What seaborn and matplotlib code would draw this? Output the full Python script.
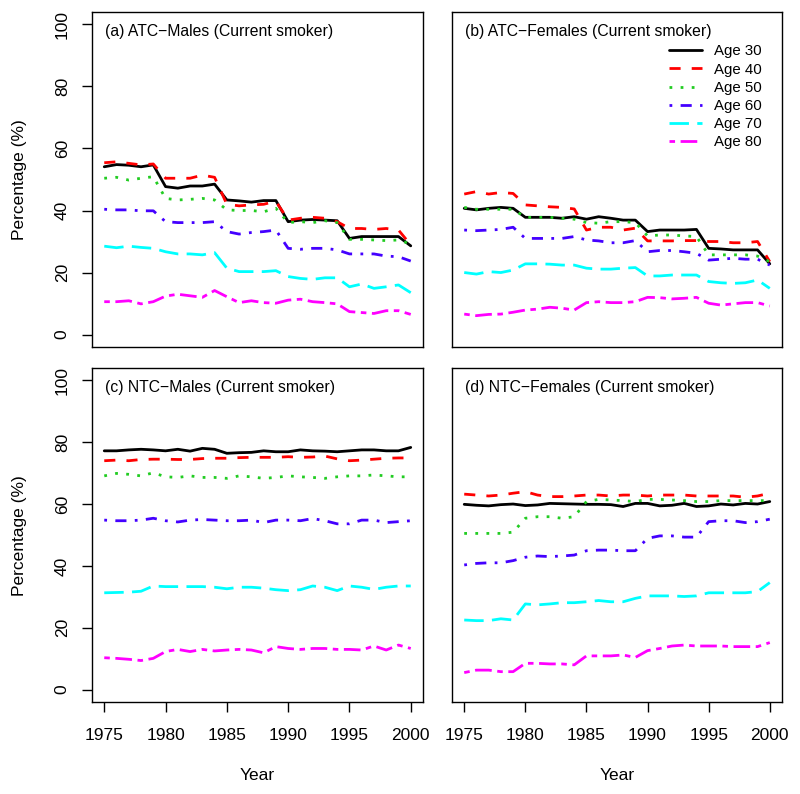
import pandas as pd
import matplotlib
matplotlib.use("Agg")
import matplotlib.pyplot as plt
import seaborn as sns

# -------------------------------
# 1. Data
# -------------------------------
years = list(range(1975, 2001))
ages = ["Age 30", "Age 40", "Age 50", "Age 60", "Age 70", "Age 80"]
panel_titles = ["(a) ATC\u2212Males (Current smoker)", "(b) ATC\u2212Females (Current smoker)",
                "(c) NTC\u2212Males (Current smoker)", "(d) NTC\u2212Females (Current smoker)"]

# (a) ATC - Males
atc_m_30 = [54.1, 54.8, 54.6, 54.1, 54.7, 47.7, 47.2, 47.9, 47.9, 48.5, 43.4, 43.1, 42.7, 43.2, 43.2,
            36.4, 36.9, 37.1, 36.9, 36.7, 31.0, 31.6, 31.6, 31.6, 31.6, 28.6]
atc_m_40 = [55.4, 55.7, 55.2, 54.7, 55.0, 50.4, 50.4, 50.4, 51.4, 50.7, 42.0, 41.5, 41.8, 42.0, 43.0,
            36.9, 37.5, 37.8, 37.5, 36.4, 34.2, 34.2, 33.9, 34.2, 33.7, 28.9]
atc_m_50 = [50.4, 50.7, 49.8, 50.4, 50.9, 43.9, 43.4, 43.6, 43.9, 43.4, 40.2, 40.0, 40.0, 39.6, 40.7,
            36.1, 36.4, 36.1, 36.7, 36.1, 30.7, 30.7, 30.5, 30.3, 30.5, 29.2]
atc_m_60 = [40.4, 40.2, 40.2, 39.9, 39.9, 36.4, 36.1, 36.1, 36.1, 36.4, 33.2, 32.4, 32.9, 33.2, 33.7,
            27.8, 27.5, 27.8, 27.8, 27.3, 26.0, 26.0, 26.0, 25.3, 25.1, 23.7]
atc_m_70 = [28.5, 28.0, 28.5, 28.1, 27.8, 26.7, 26.0, 26.0, 25.7, 26.4, 21.4, 20.3, 20.3, 20.3, 20.6,
            18.7, 18.1, 17.8, 18.3, 18.3, 15.4, 16.3, 14.9, 15.4, 16.0, 13.5]
atc_m_80 = [10.6, 10.6, 10.9, 9.9, 10.6, 12.4, 13.0, 12.5, 12.0, 14.2, 12.2, 10.3, 10.9, 10.3, 10.1,
            11.1, 11.4, 10.6, 10.3, 9.9, 7.4, 7.1, 6.8, 7.7, 7.7, 6.5]

# (b) ATC - Females
atc_f_30 = [40.7, 40.2, 40.7, 41.0, 40.7, 37.8, 37.8, 37.8, 37.5, 38.0, 37.2, 38.0, 37.5, 36.9, 36.9,
            33.2, 33.7, 33.7, 33.7, 33.9, 27.8, 27.6, 27.3, 27.3, 27.3, 22.8]
atc_f_40 = [45.3, 46.1, 45.3, 45.8, 45.5, 41.8, 41.5, 41.2, 41.0, 40.5, 33.7, 34.6, 34.6, 33.7, 34.3,
            30.2, 30.2, 30.2, 30.3, 30.3, 30.0, 30.0, 29.6, 29.6, 30.0, 23.5]
atc_f_50 = [41.0, 40.4, 40.4, 40.4, 40.4, 37.8, 37.8, 37.8, 37.5, 37.2, 36.1, 35.9, 36.4, 36.4, 36.1,
            31.8, 32.1, 32.1, 31.8, 31.6, 25.7, 25.7, 25.7, 25.7, 25.3, 23.5]
atc_f_60 = [33.7, 33.5, 33.7, 33.9, 34.6, 31.0, 31.0, 31.0, 31.0, 31.6, 30.5, 30.2, 29.6, 29.6, 30.3,
            26.7, 27.1, 27.1, 26.7, 26.2, 24.0, 24.3, 24.6, 24.3, 24.3, 22.4]
atc_f_70 = [20.0, 19.5, 20.3, 20.0, 20.8, 22.8, 22.8, 22.7, 22.4, 22.4, 21.4, 21.1, 21.1, 21.4, 21.6,
            18.9, 18.9, 19.2, 19.2, 19.2, 17.1, 16.7, 16.5, 16.7, 17.6, 14.9]
atc_f_80 = [6.6, 6.1, 6.5, 6.6, 7.2, 7.9, 8.2, 8.8, 8.5, 7.9, 10.3, 10.6, 10.3, 10.3, 10.6,
            12.0, 11.9, 11.5, 11.7, 12.0, 10.1, 9.5, 9.9, 10.3, 10.3, 9.2]

# (c) NTC - Males
ntc_m_30 = [77.2, 77.2, 77.5, 77.7, 77.5, 77.2, 77.7, 77.1, 78.0, 77.7, 76.4, 76.6, 76.7, 77.2, 76.9,
            76.9, 77.5, 77.2, 77.1, 76.9, 77.2, 77.5, 77.5, 77.2, 77.2, 78.3]
ntc_m_40 = [74.0, 74.2, 74.0, 74.4, 74.5, 74.5, 74.4, 74.4, 74.7, 74.8, 74.8, 75.0, 75.1, 75.1, 75.1,
            75.3, 75.1, 75.2, 75.5, 74.6, 74.0, 74.2, 74.5, 74.8, 74.9, 74.9]
ntc_m_50 = [69.1, 69.9, 69.6, 69.1, 70.1, 68.8, 68.6, 69.1, 68.6, 68.6, 68.3, 69.1, 68.8, 68.3, 68.6,
            69.1, 68.8, 68.6, 68.3, 68.8, 69.1, 69.1, 69.4, 69.1, 68.8, 68.8]
ntc_m_60 = [54.8, 54.6, 54.6, 54.8, 55.4, 54.6, 54.2, 54.8, 55.0, 54.8, 54.6, 54.6, 54.8, 54.0, 54.8,
            54.8, 54.6, 55.3, 54.6, 53.6, 53.6, 54.8, 54.8, 54.0, 54.3, 54.6]
ntc_m_70 = [31.3, 31.4, 31.5, 31.8, 33.5, 33.3, 33.3, 33.3, 33.3, 33.1, 32.6, 33.1, 33.1, 32.8, 32.3,
            32.0, 32.3, 33.5, 33.1, 32.0, 33.5, 33.1, 32.4, 33.1, 33.5, 33.5]
ntc_m_80 = [10.3, 10.1, 9.8, 9.4, 10.1, 12.3, 13.0, 12.3, 13.0, 12.5, 12.8, 13.0, 12.8, 11.9, 13.9,
            13.3, 13.0, 13.3, 13.3, 13.0, 13.0, 12.8, 14.1, 12.8, 14.4, 13.3]

# (d) NTC - Females
ntc_f_30 = [59.9, 59.6, 59.4, 59.8, 60.0, 59.5, 59.7, 60.2, 60.1, 60.0, 59.9, 59.9, 59.8, 59.2, 60.2,
            60.2, 59.4, 59.6, 60.2, 59.2, 59.4, 60.0, 59.7, 60.2, 60.0, 60.8]
ntc_f_40 = [63.2, 62.9, 62.6, 62.9, 63.5, 64.0, 62.9, 62.4, 62.4, 62.6, 62.9, 62.9, 62.6, 62.9, 62.9,
            62.6, 62.9, 62.9, 62.9, 62.6, 62.6, 62.6, 62.6, 62.2, 62.6, 63.5]
ntc_f_50 = [50.5, 50.5, 50.5, 50.5, 50.9, 55.4, 55.9, 55.9, 55.4, 55.9, 60.8, 61.5, 61.3, 61.1, 60.8,
            61.5, 61.5, 61.3, 61.1, 60.8, 60.8, 61.1, 61.1, 61.1, 61.1, 61.1]
ntc_f_60 = [40.3, 40.8, 41.0, 41.0, 41.7, 42.8, 43.2, 43.0, 43.2, 43.5, 44.9, 45.1, 45.1, 44.9, 44.9,
            48.9, 49.7, 49.7, 49.3, 49.3, 54.3, 54.6, 54.6, 54.0, 54.3, 55.1]
ntc_f_70 = [22.5, 22.3, 22.3, 22.9, 22.5, 27.7, 27.4, 27.7, 28.1, 28.1, 28.4, 28.8, 28.4, 28.4, 29.5,
            30.3, 30.3, 30.3, 30.1, 30.3, 31.3, 31.3, 31.3, 31.3, 31.7, 34.6]
ntc_f_80 = [5.5, 6.3, 6.3, 5.8, 5.8, 8.5, 8.5, 8.3, 8.3, 8.0, 10.9, 10.9, 10.9, 11.2, 10.4,
            12.6, 13.3, 14.1, 14.4, 14.1, 14.1, 14.1, 13.9, 13.9, 13.9, 15.2]

panel_series = [
    [atc_m_30, atc_m_40, atc_m_50, atc_m_60, atc_m_70, atc_m_80],
    [atc_f_30, atc_f_40, atc_f_50, atc_f_60, atc_f_70, atc_f_80],
    [ntc_m_30, ntc_m_40, ntc_m_50, ntc_m_60, ntc_m_70, ntc_m_80],
    [ntc_f_30, ntc_f_40, ntc_f_50, ntc_f_60, ntc_f_70, ntc_f_80],
]

rows = []
for p, series in enumerate(panel_series):
    for age, vals in zip(ages, series):
        for yr, v in zip(years, vals):
            rows.append({"panel": p, "Age": age, "Year": yr, "Percentage": v})
df = pd.DataFrame(rows)

# -------------------------------
# 2. Style
# -------------------------------
sns.set_theme(style="ticks")
plt.rcParams["font.family"] = ["Liberation Sans", "DejaVu Sans"]
plt.rcParams["axes.linewidth"] = 1.0
plt.rcParams["text.color"] = "black"
plt.rcParams["axes.labelcolor"] = "black"
plt.rcParams["xtick.color"] = "black"
plt.rcParams["ytick.color"] = "black"

line_colors = dict(zip(ages, ["#000000", "#FF0000", "#22CC22", "#4400FF", "#00FFFF", "#FF00FF"]))
line_dashes = dict(zip(ages, ["", (4, 4), (1, 3), (1, 3, 4, 3), (7, 3), (2, 2, 6, 2)]))

# -------------------------------
# 3. Plot 2x2 panels
# -------------------------------
fig = plt.figure(figsize=(8, 7.94), dpi=100)
positions = [
    [0.115, 0.5630, 0.41375, 0.4219],
    [0.565, 0.5630, 0.4125, 0.4219],
    [0.115, 0.1159, 0.41375, 0.4207],
    [0.565, 0.1159, 0.4125, 0.4207],
]

for p, pos in enumerate(positions):
    ax = fig.add_axes(pos)
    sub = df[df["panel"] == p]
    sns.lineplot(data=sub, x="Year", y="Percentage", hue="Age", style="Age",
                 palette=line_colors, dashes=line_dashes, hue_order=ages, style_order=ages,
                 linewidth=2, legend=False, ax=ax)
    ax.set_xlim(1974, 2001)
    ax.set_ylim(-4, 104)
    ax.set_xlabel("")
    ax.set_ylabel("")
    for sp in ax.spines.values():
        sp.set_visible(True)
        sp.set_color("black")
        sp.set_linewidth(1.0)
    ax.tick_params(direction="out", length=7, width=1, labelsize=12.5,
                   colors="black", labelcolor="black")
    ax.tick_params(axis="x", pad=12)
    ax.tick_params(axis="y", pad=9)

    if p in (0, 2):
        ax.set_yticks([0, 20, 40, 60, 80, 100])
        ax.set_yticklabels(["0", "20", "40", "60", "80", "100"], rotation=90, va="center")
    else:
        ax.set_yticks([])
    if p in (2, 3):
        ax.set_xticks([1975, 1980, 1985, 1990, 1995, 2000])
    else:
        ax.set_xticks([])

    ax.text(0.039, 0.942, panel_titles[p], transform=ax.transAxes, fontsize=11.3,
            ha="left", va="center", color="black")

    if p == 1:
        ax.legend(ax.lines[:6], ages, loc="upper right", bbox_to_anchor=(0.94, 0.903),
                  frameon=False, fontsize=10.8, handlelength=2.2, handletextpad=0.8,
                  labelspacing=0.28, borderpad=0, borderaxespad=0, labelcolor="black")

fig.text(0.024, 0.774, "Percentage (%)", rotation=90, ha="center", va="center", fontsize=12.5)
fig.text(0.024, 0.326, "Percentage (%)", rotation=90, ha="center", va="center", fontsize=12.5)
fig.text(0.3219, 0.0227, "Year", ha="center", va="center", fontsize=12.5)
fig.text(0.7713, 0.0227, "Year", ha="center", va="center", fontsize=12.5)

plt.savefig("out.png", dpi=100)
